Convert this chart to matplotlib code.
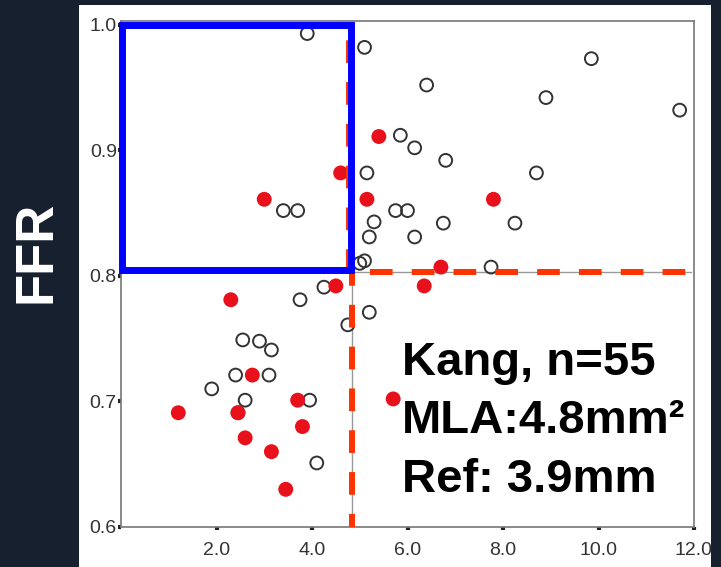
# FFR vs MLA scatter (Kang, n=55)
# re-drawn with matplotlib

import matplotlib
matplotlib.use('Agg')
import matplotlib.pyplot as plt
from matplotlib.patches import Rectangle

# open circles (no red fill)
open_mla = [3.9, 3.4, 3.7, 5.1, 9.85, 6.4, 8.9, 11.7, 5.85, 6.15, 6.8, 5.15, 8.7,
            5.75, 6.0, 5.3, 6.75, 8.25, 5.2, 6.15, 5.0, 5.1, 7.75, 4.25, 3.75,
            5.2, 4.75, 2.55, 2.9, 3.15, 2.4, 3.1, 1.9, 2.6, 3.95, 2.45, 4.1]
open_ffr = [0.993, 0.852, 0.852, 0.982, 0.973, 0.952, 0.942, 0.932, 0.912, 0.902,
            0.892, 0.882, 0.882, 0.852, 0.852, 0.843, 0.842, 0.842, 0.831, 0.831,
            0.810, 0.812, 0.807, 0.791, 0.781, 0.771, 0.761, 0.749, 0.748, 0.741,
            0.721, 0.721, 0.710, 0.701, 0.701, 0.691, 0.651]

# red filled circles
red_mla = [3.0, 4.6, 5.4, 5.15, 7.8, 6.7, 2.3, 4.5, 2.75, 3.7, 1.2, 2.45, 2.6,
           3.8, 3.15, 3.45, 6.35, 5.7]
red_ffr = [0.861, 0.882, 0.911, 0.861, 0.861, 0.807, 0.781, 0.792, 0.721, 0.701,
           0.691, 0.691, 0.671, 0.680, 0.660, 0.630, 0.792, 0.702]

x_ticks = [2.0, 4.0, 6.0, 8.0, 10.0, 12.0]
y_ticks = [0.6, 0.7, 0.8, 0.9, 1.0]

# cut-off values
MLA_CUT = 4.84
FFR_CUT = 0.803
X_MAX = 11.94

note_lines = ['Kang, n=55', 'MLA:4.8mm\u00b2', 'Ref: 3.9mm']

BG = '#17202e'
W, H = 721, 567

fig = plt.figure(figsize=(W / 100, H / 100), dpi=100)
fig.patch.set_facecolor(BG)

# white panel behind the plot
fig.patches.append(Rectangle((79 / W, 0), 632 / W, 562 / H, transform=fig.transFigure,
                             facecolor='white', edgecolor='none', zorder=-1))

ax = fig.add_axes([121 / W, 1 - 527 / H, 573 / W, 506 / H])
ax.set_zorder(2)
ax.set_facecolor('white')
ax.set_xlim(0, X_MAX)
ax.set_ylim(0.6, 1.003)

for s in ax.spines.values():
    s.set_color('#777777')
    s.set_linewidth(1.2)

ax.set_xticks(x_ticks)
ax.set_xticklabels(['%.1f' % v for v in x_ticks])
ax.set_yticks(y_ticks)
ax.set_yticklabels(['%.1f' % v for v in y_ticks])
ax.tick_params(length=2, width=3, color='#222222', labelcolor='#333333',
               labelsize=14)
for lab in ax.get_xticklabels() + ax.get_yticklabels():
    lab.set_family('Liberation Sans')
ax.tick_params(axis='x', pad=9)
ax.tick_params(axis='y', pad=1)

# thin grey reference lines
ax.plot([MLA_CUT, MLA_CUT], [0.6, FFR_CUT], color='#999999', lw=1, zorder=1)
ax.plot([MLA_CUT, X_MAX], [FFR_CUT, FFR_CUT], color='#999999', lw=1, zorder=1)

# points
ax.scatter(open_mla, open_ffr, s=85, facecolors='none', edgecolors='#333333',
           linewidths=1.4, zorder=3)
ax.scatter(red_mla, red_ffr, s=115, color='#e8101a', edgecolors='none', zorder=4)

# red dashed cut-off lines (upper part mostly hidden by the blue box)
ax.plot([4.78, 4.78], [FFR_CUT, 0.995], color='#ff3300', lw=4.3,
        linestyle=(0, (3.8, 3.2)), zorder=5)
ax.plot([MLA_CUT, MLA_CUT], [FFR_CUT, 0.6], color='#ff3300', lw=4.3,
        linestyle=(1.5, (3.8, 3.2)), zorder=5)
ax.plot([MLA_CUT, X_MAX], [FFR_CUT, FFR_CUT], color='#ff3300', lw=4.3,
        linestyle=(4.0, (3.8, 3.2)), zorder=5)

# blue box (high FFR, small MLA)
ax.add_patch(Rectangle((0.02, 0.805), 4.80, 0.195, facecolor='none',
                       edgecolor='#0000ff', lw=5, zorder=6, clip_on=False))

# annotation
ys = [375, 433, 492]
for txt, y in zip(note_lines, ys):
    fig.text(402 / W, 1 - y / H, txt, fontsize=34, fontweight='bold',
             family='Liberation Sans', color='black', va='baseline', ha='left',
             zorder=10)

fig.text(37 / W, 1 - 252 / H, 'FFR', rotation=90, fontsize=38, fontweight='bold',
         family='Liberation Sans', color='white', ha='center', va='center')

fig.savefig('out.png', dpi=100, facecolor=BG)
